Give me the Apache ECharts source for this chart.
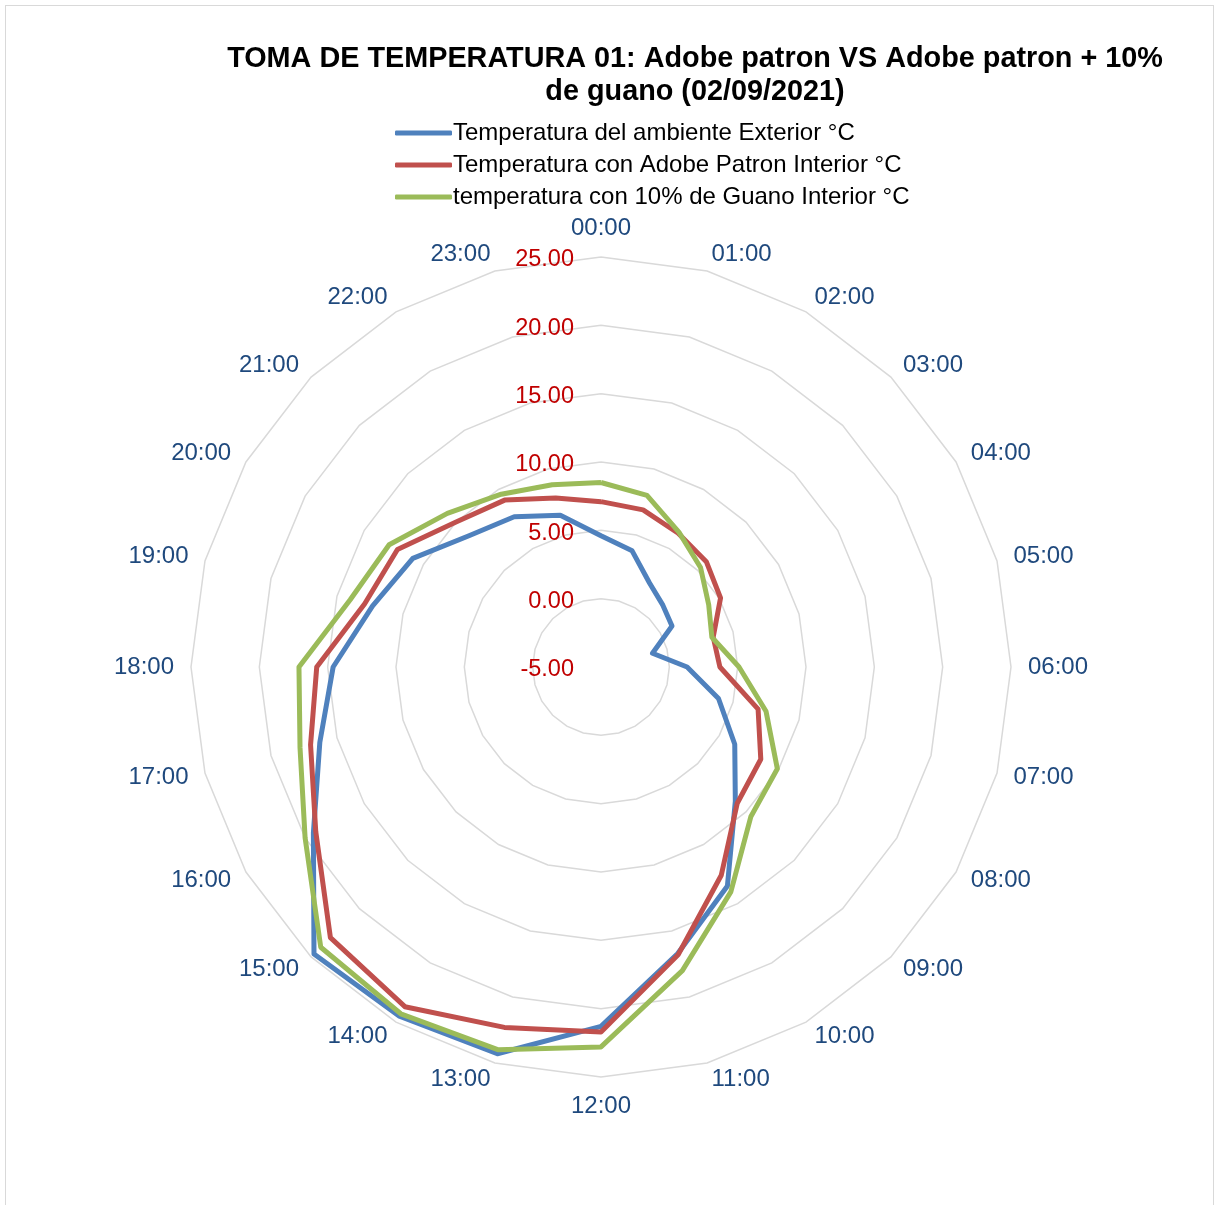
<!DOCTYPE html>
<html>
<head>
<meta charset="utf-8">
<script src="https://cdn.jsdelivr.net/npm/echarts@6/dist/echarts.min.js"></script>
<style>
  html, body { margin: 0; padding: 0; background: #fff; }
  #wrap { position: relative; width: 1216px; height: 1205px; overflow: hidden; }
  #frame { position: absolute; left: 5px; top: 5px; width: 1209px; height: 1230px; border: 1px solid #d9d9d9; box-sizing: border-box; }
  #chart { position: absolute; left: 0; top: 0; width: 1216px; height: 1205px; }
</style>
</head>
<body>
<div id="wrap">
  <div id="frame"></div>
  <div id="chart"></div>
</div>
<script>
// Hours (categories), clockwise from top
const hours = ['00:00','01:00','02:00','03:00','04:00','05:00','06:00','07:00','08:00','09:00','10:00','11:00',
               '12:00','13:00','14:00','15:00','16:00','17:00','18:00','19:00','20:00','21:00','22:00','23:00'];

const seriesNames = [
  'Temperatura del ambiente Exterior °C',
  'Temperatura con Adobe Patron Interior °C',
  'temperatura con 10% de Guano Interior °C'
];

const exterior = [4.6, 3.8, 2.1, 1.4, 1.0, -1.1, 1.3, 3.9, 6.3, 8.9, 13.5, 16.7,
                  21.3, 24.3, 24.5, 24.7, 19.3, 16.3, 14.6, 12.3, 10.9, 8.6, 7.7, 6.5];
const adobePatron = [7.1, 6.9, 6.3, 5.9, 5.1, 3.5, 3.7, 6.9, 8.5, 9.1, 12.6, 16.8,
                     21.7, 22.3, 23.7, 23.0, 19.1, 17.0, 15.8, 12.9, 12.2, 10.0, 9.1, 7.8];
const guano10 = [8.5, 8.0, 6.4, 5.3, 4.1, 3.4, 5.1, 7.5, 9.9, 10.5, 14.0, 18.0,
                 22.8, 24.0, 24.3, 24.0, 20.0, 17.8, 17.1, 14.0, 12.9, 10.9, 9.6, 8.8];

const axisMin = -5, axisMax = 25;
const colors = ['#4F81BD', '#C0504D', '#9BBB59'];

// ECharts radar runs counter-clockwise: reorder so hours run clockwise
const order = [0];
for (let i = hours.length - 1; i >= 1; i--) order.push(i);
const reorder = arr => order.map(i => arr[i]);

const indicator = order.map((i, k) => {
  const ind = { name: hours[i], min: axisMin, max: axisMax };
  if (k === 0) ind.axisLabel = { show: true };
  return ind;
});

const FONT = '"Liberation Sans", Arial, sans-serif';
const chart = echarts.init(document.getElementById('chart'), null, { renderer: 'canvas' });
chart.setOption({
  animation: false,
  backgroundColor: 'transparent',
  title: {
    text: 'TOMA DE TEMPERATURA 01: Adobe patron VS Adobe patron + 10%\nde guano (02/09/2021)',
    left: 690,
    top: 38,
    textAlign: 'center',
    textStyle: { fontFamily: FONT, fontWeight: 'bold', fontSize: 28.8, color: '#000', lineHeight: 33 }
  },
  legend: {
    orient: 'vertical',
    left: 390,
    top: 116,
    itemWidth: 57,
    itemHeight: 5,
    itemGap: 8,
    icon: 'roundRect',
    textStyle: { fontFamily: FONT, fontSize: 24, color: '#000', lineHeight: 24, padding: [0, 0, 0, -4] },
    data: seriesNames
  },
  radar: {
    center: [601, 667],
    radius: 410,
    startAngle: 90,
    shape: 'polygon',
    splitNumber: 6,
    indicator: indicator,
    axisName: { color: '#1F497D', fontFamily: FONT, fontSize: 24 },
    nameGap: 17,
    axisLine: { show: false },
    axisTick: { show: false },
    splitArea: { show: false },
    splitLine: { lineStyle: { color: '#D9D9D9', width: 1.5 } },
    axisLabel: {
      show: false,
      color: '#C00000',
      fontFamily: FONT,
      fontSize: 23.5,
      margin: 27,
      formatter: v => '{v|' + Number(v).toFixed(2) + '}',
      rich: {
        v: { color: '#C00000', fontFamily: FONT, fontSize: 23.5, padding: [6, 0, 0, 0] }
      }
    }
  },
  series: [{
    type: 'radar',
    symbol: 'none',
    data: [
      { name: seriesNames[0], value: reorder(exterior), lineStyle: { color: colors[0], width: 5 }, itemStyle: { color: colors[0] } },
      { name: seriesNames[1], value: reorder(adobePatron), lineStyle: { color: colors[1], width: 5 }, itemStyle: { color: colors[1] } },
      { name: seriesNames[2], value: reorder(guano10), lineStyle: { color: colors[2], width: 5 }, itemStyle: { color: colors[2] } }
    ]
  }]
});
</script>
</body>
</html>
